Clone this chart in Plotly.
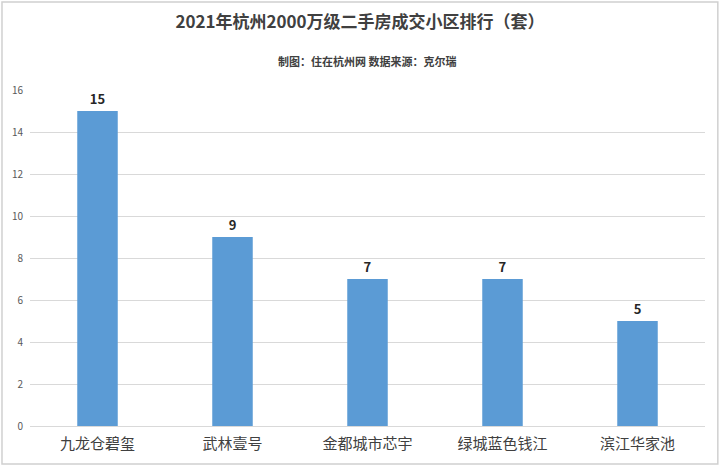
import plotly.graph_objects as go

categories = ["九龙仓碧玺", "武林壹号", "金都城市芯宇", "绿城蓝色钱江", "滨江华家池"]
values = [15, 9, 7, 7, 5]
y_ticks = [0, 2, 4, 6, 8, 10, 12, 14, 16]

FONT = "Noto Sans CJK SC"

fig = go.Figure()
fig.add_trace(go.Bar(
    x=categories, y=values,
    marker=dict(color="#5B9BD5", line=dict(width=0)),
    width=0.3,
    text=["<b>%d</b>" % v for v in values],
    textposition="outside",
    textfont=dict(family=FONT, size=13, color="#262626"),
    cliponaxis=False,
))

fig.update_layout(
    width=720, height=466,
    margin=dict(l=30, r=15, t=90, b=40),
    paper_bgcolor="white", plot_bgcolor="white",
    showlegend=False,
    font=dict(family=FONT),
    title=dict(
        text="<b>2021年杭州2000万级二手房成交小区排行（套）</b>",
        x=0.5, xanchor="center", y=0.953, yanchor="middle",
        font=dict(family=FONT, size=17, color="#404040"),
    ),
    annotations=[dict(
        text="<b>制图：住在杭州网 数据来源：克尔瑞</b>",
        xref="paper", yref="paper", x=0.5, y=1.0, yanchor="bottom",
        yshift=19, showarrow=False, xanchor="center",
        font=dict(family=FONT, size=11, color="#404040"),
    )],
    shapes=[dict(type="rect", xref="paper", yref="paper",
                 x0=-0.0415, x1=1.019, y0=-0.113, y1=1.262,
                 line=dict(color="#D0D0D0", width=1.5))],
    xaxis=dict(
        tickfont=dict(family=FONT, size=15, color="#404040"),
        showline=True, linecolor="#D9D9D9", linewidth=1,
        ticks="", showgrid=False, ticklabelstandoff=4,
    ),
    yaxis=dict(
        range=[0, 16], tickvals=y_ticks,
        tickfont=dict(family=FONT, size=10, color="#595959"),
        showgrid=True, gridcolor="#D9D9D9", gridwidth=1,
        zeroline=False, showline=False, ticks="",
        ticklabelstandoff=6,
    ),
    bargap=0.7,
)

fig.write_html("out.html", config={"displayModeBar": False},
               post_script="document.body.style.margin='0';")
